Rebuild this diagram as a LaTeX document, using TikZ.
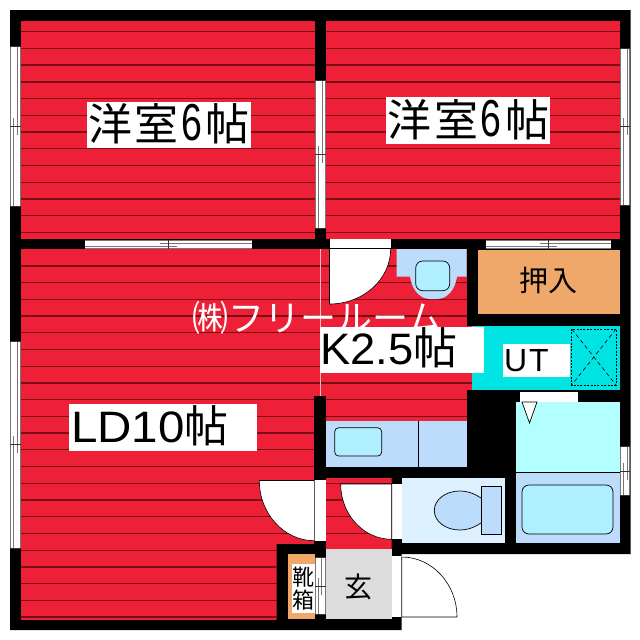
\documentclass[tikz,border=0pt]{standalone}
\usepackage{fontspec}
\setmainfont{Liberation Sans}
\newfontfamily\cjk{Noto Sans CJK JP}
\definecolor{redroom}{HTML}{EE2038}
\definecolor{stripe}{HTML}{7A0C16}
\definecolor{fixture}{HTML}{BBDDFB}
\definecolor{basin}{HTML}{AFEFFF}
\definecolor{bathtop}{HTML}{B3FFFF}
\definecolor{wc}{HTML}{DDF0FF}
\definecolor{closet}{HTML}{EFA86A}
\definecolor{utility}{HTML}{00E3E3}
\definecolor{entry}{HTML}{DCDCDC}
\definecolor{wingray}{HTML}{777777}
\newcommand{\fsz}[1]{\fontsize{#1}{#1}\selectfont}
\newcommand{\redrect}[4]{%
  \begin{scope}
    \clip (#1,#2) rectangle (#3,#4);
    \fill[redroom] (#1,#2) rectangle (#3,#4);
    \foreach \yy in {31.7,48.4,65.1,81.9,98.6,115.3,132,148.7,165.5,182.2,198.9,215.6,232.3,266,282.7,299.4,316.1,332.8,349.5,366.2,383,399.7,416.4,433.1,449.8,466.6,483.3,500,516.7,533.4,550.2,566.9,583.6,600.3,617} {\draw[stripe,line width=1.3pt] (0,\yy) -- (640,\yy);}
  \end{scope}}
\newcommand{\vwin}[5]{% x1 y1 x2 y2 ymid
  \fill[white] (#1,#2) rectangle (#3,#4);
  \draw[wingray,line width=0.7pt] (#1+.5,#2) -- (#1+.5,#4) (#3-.5,#2) -- (#3-.5,#4);
  \draw[wingray,line width=0.9pt] (#1+7,#2) -- (#1+7,#5+9) (#1+3.5,#5-8) -- (#1+3.5,#4);
  \draw[black!80,line width=0.6pt] (#1,#2) -- (#3,#2) (#1,#4) -- (#3,#4) (#1,#5) -- (#3,#5);}
\newcommand{\hwin}[5]{% x1 y1 x2 y2 xmid
  \fill[white] (#1,#2) rectangle (#3,#4);
  \draw[wingray,line width=0.7pt] (#1,#2+.4) -- (#3,#2+.4) (#1,#4-.4) -- (#3,#4-.4);
  \draw[wingray,line width=0.9pt] (#1,#2+6.5) -- (#5+9,#2+6.5) (#5-8,#2+3.5) -- (#3,#2+3.5);
  \draw[black!80,line width=0.6pt] (#5,#2) -- (#5,#4);}
\newcommand{\nsix}{\scalebox{.72}[1]{\fontsize{52}{52}\selectfont\rmfamily 6}}
\tikzset{
  wall/.style={fill=black},
  outl/.style={draw=black,line width=0.7pt},
  leaf/.style={fill=white,draw=black,line width=0.6pt},
  lab/.style={anchor=base west,inner sep=0pt,outer sep=0pt,text=black},
}
\begin{document}
\begin{tikzpicture}[x=1pt,y=-1pt]
\useasboundingbox (0,0) rectangle (640,640);
\fill[white] (0,0) rectangle (640,640);
% walls
\fill[wall] (10,10) -- (630.5,10) -- (630.5,554) -- (401.7,554) -- (401.7,630) -- (10,630) -- cycle;
% red rooms
\redrect{20.7}{20.7}{315}{238.5}
\redrect{325.7}{20.7}{620}{238.5}
\redrect{20.7}{249}{467}{396}
\redrect{20.7}{396}{314.3}{544}
\redrect{20.7}{544}{276.7}{619.5}
\redrect{325.7}{396}{467}{421}
\redrect{467}{326}{472}{390}
\redrect{325.7}{478}{391.7}{549.3}
\draw[white!70!redroom,line width=0.6pt] (320,249) -- (320,396);
% windows
\vwin{10}{46}{20.7}{206.7}{126}
\vwin{315}{80}{325.5}{228}{154}
\vwin{620}{48}{630}{205}{126}
\vwin{10}{341}{20.7}{548.3}{444}
\vwin{620}{446.7}{630}{495.7}{471}
\vwin{314.7}{557.7}{325.7}{614}{586}
\hwin{85}{239.5}{252}{248.5}{168}
\hwin{486}{239.5}{611}{248.5}{548}
% closet
\fill[closet] (478,249.5) rectangle (619.5,314);
% utility
\fill[utility] (472,326) rectangle (619.5,390);
\draw[black,dash pattern=on 2pt off 1.4pt,line width=0.8pt] (571.7,329) rectangle (616,385);
\draw[black,dash pattern=on 4pt off 3pt,line width=0.6pt] (571.7,329) -- (616,385) (616,329) -- (571.7,385);
% white labels background
\fill[white] (86.7,101.7) rectangle (250.7,148);
\fill[white] (386,97.3) rectangle (550,144);
\fill[white] (69,404) rectangle (256.7,450.7);
% washbasin
\fill[fixture] (396.7,249) -- (466.7,249) -- (466.7,276.7) -- (457,276.7) .. controls (455,290) and (447,299) .. (437,299) -- (430,299) .. controls (420,299) and (412,290) .. (410,276.7) -- (396.7,276.7) -- cycle;
\draw[outl,fill=basin,rounded corners=7pt] (415.7,261) rectangle (449.7,290.7);
% kitchen counter
\fill[fixture] (325.7,421) rectangle (467,467);
\draw[black,line width=0.7pt] (418.5,421) -- (418.5,467);
\draw[outl,fill=basin,rounded corners=4pt] (334.7,427.7) rectangle (381.7,456);
% bath
\fill[bathtop] (516,402) rectangle (619.5,472);
\fill[fixture] (516,472) rectangle (619.5,543);
\draw[black,line width=0.7pt] (516,472) -- (619.5,472);
\draw[outl,fill=basin,rounded corners=7pt] (522,485) rectangle (613,534);
\fill[white] (520,392) rectangle (578,401.5);
\draw[black,line width=0.7pt,fill=white] (522,402) -- (537,402) -- (529.5,423) -- cycle;
% WC
\fill[wc] (401.7,478) rectangle (505,543);
\draw[outl,fill=fixture] (481,498) .. controls (472,492) and (465,491) .. (460,491) .. controls (445,491) and (434.3,500) .. (434.3,510.5) .. controls (434.3,521) and (445,530) .. (460,530) .. controls (465,530) and (472,529) .. (481,523);
\draw[outl,fill=fixture] (481,486.7) rectangle (501,534.3);
% shoe box
\fill[closet] (287.7,554.3) rectangle (314.7,619.3);
\fill[white] (292,564) rectangle (314.7,613);
% entry
\fill[entry] (325.7,549.3) rectangle (391.7,619);
% doors
\fill[white] (329.5,238.5) rectangle (390.7,248.5);
\draw[leaf] (329.5,248.5) -- (390.7,248.5) .. controls (390.7,279.4) and (363.3,304) .. (329.5,304) -- cycle;
\fill[white] (314.3,480) rectangle (325.7,541);
\draw[leaf] (314.3,480.5) -- (259.3,480.5) .. controls (259.3,513.5) and (283.9,540.7) .. (314.3,540.7) -- cycle;
\fill[white] (391.7,484) rectangle (401.7,539.3);
\draw[leaf] (391.7,484) -- (340.7,484) .. controls (340.7,514.5) and (363.5,539.3) .. (391.7,539.3) -- cycle;
\fill[white] (391.7,556) rectangle (401.7,617);
\draw[leaf] (401.7,557) .. controls (432.2,557) and (457,584) .. (457,617) -- (401.7,617) -- cycle;
% watermark
\node[lab,text=white] (mark) at (192,331) {\cjk\fsz{36}㈱フリールーム};
% K box
\fill[white] (320,326.7) rectangle (484,373.3);
\fill[white] (503,344) rectangle (570,376.7);
% labels
\node[lab] (r1) at (88,140) {\cjk\fsz{44}洋\kern3pt 室\kern2pt\nsix\kern4pt 帖};
\node[lab] (r2) at (387.5,136) {\cjk\fsz{44}洋\kern3pt 室\kern2pt\nsix\kern4pt 帖};
\node[lab] (ld) at (71,442) {\scalebox{1.08}[1]{\fsz{44}LD10}{\cjk\fsz{44}帖}};
\node[lab] (k) at (320,364) {\scalebox{1.03}[1]{\fsz{44}K2.5}{\cjk\fsz{44}帖}};
\node[lab] (ut) at (504,371) {\fsz{32}U\kern2pt T};
\node[lab] (osi) at (519,291) {\cjk\fsz{29}押入};
\node[lab] (gen) at (344,597) {\cjk\fsz{28}玄};
\node[lab] (shoe1) at (292,585) {\cjk\fsz{22}靴};
\node[lab] (shoe2) at (292,608) {\cjk\fsz{22}箱};
\end{tikzpicture}
\end{document}
